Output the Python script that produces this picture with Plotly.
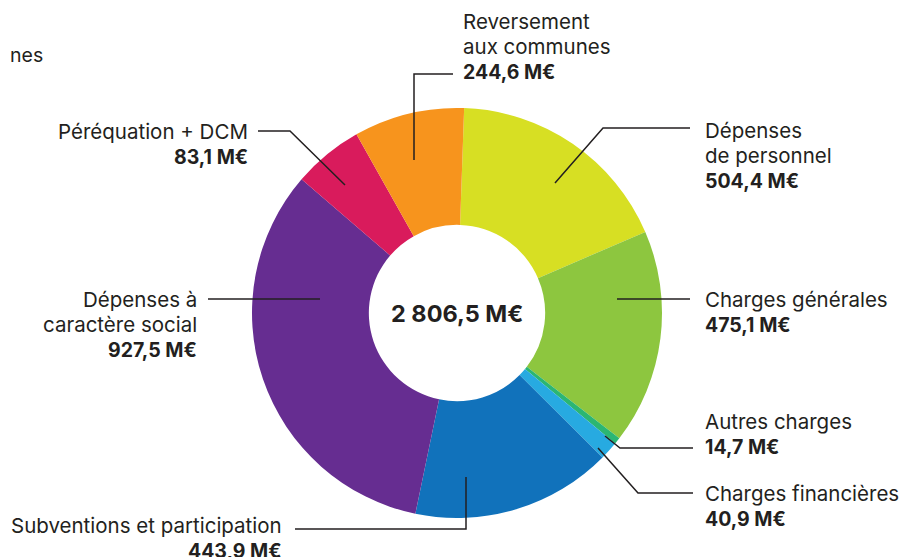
import plotly.graph_objects as go

# data
labels = ["Dépenses de personnel", "Charges générales", "Autres charges",
          "Charges financières", "Subventions et participation",
          "Dépenses à caractère social", "Péréquation + DCM",
          "Reversement aux communes"]
# slice sizes as drawn in the picture (the Péréquation slice is drawn
# wider than its label, so the ring adds up to the centre total)
slice_values = [504.4, 475.1, 14.7, 40.9, 443.9, 927.5, 155.4, 244.6]
value_text = ["504,4 M€", "475,1 M€", "14,7 M€", "40,9 M€", "443,9 M€",
              "927,5 M€", "83,1 M€", "244,6 M€"]
colors = ["#d7df23", "#8dc63f", "#2bb673", "#27aae1", "#1172bb",
          "#662d91", "#d91b5c", "#f7941d"]
total_text = "2 806,5 M€"

W, H = 911, 557
OFF = 8  # page body margin, compensated so screen pixels match
FONT = "Inter, Roboto, sans-serif"
INK = "#231f20"

# pie center / radius in screen pixels
cx, cy, r = 457, 313, 205

fig = go.Figure()
fig.add_trace(go.Pie(
    labels=labels, values=slice_values, sort=False, direction="clockwise",
    rotation=2, hole=0.43, textinfo="none", hoverinfo="label",
    marker=dict(colors=colors, line=dict(width=0)),
    domain=dict(x=[(cx - OFF - r) / W, (cx - OFF + r) / W],
                y=[(H - (cy - OFF) - r) / H, (H - (cy - OFF) + r) / H]),
    showlegend=False,
))

# label blocks: (name lines, value index, x, first line center y, anchor)
blocks = [
    (["Reversement", "aux communes"], 7, 461, 21, "left"),
    (["Dépenses", "de personnel"], 0, 703, 130, "left"),
    (["Charges générales"], 1, 703, 299, "left"),
    (["Autres charges"], 2, 703, 421, "left"),
    (["Charges financières"], 3, 703, 493, "left"),
    (["Subventions et participation"], 4, 284, 525, "right"),
    (["Dépenses à", "caractère social"], 5, 199, 299, "right"),
    (["Péréquation + DCM"], 6, 250, 131, "right"),
]
LH = 25.5
for names, i, x, y, anchor in blocks:
    lines = [(n, False) for n in names] + [(value_text[i], True)]
    for k, (t, bold) in enumerate(lines):
        fig.add_annotation(
            x=x, y=y + k * LH, xref="x", yref="y", xanchor=anchor,
            yanchor="middle", showarrow=False,
            text=f"<b>{t}</b>" if bold else t,
            font=dict(family=FONT, size=19.5 if bold else 20.5, color=INK),
        )

# leader lines
leaders = [
    "M 453 74 L 414 74 L 414 160",
    "M 690 128 L 603 128 L 555 183",
    "M 690 299 L 617 299",
    "M 693 448 L 620 448 L 605 436",
    "M 693 493 L 638 493 L 598 448",
    "M 295 529 L 466 529 L 466 477",
    "M 208 299 L 320 299",
    "M 258 131 L 290 131 L 345 185",
]
for p in leaders:
    fig.add_shape(type="path", path=p, xref="x", yref="y",
                  line=dict(color=INK, width=1.5))

# center total
fig.add_annotation(x=cx, y=cy, xref="x", yref="y", showarrow=False,
                   text=f"<b>{total_text}</b>",
                   font=dict(family=FONT, size=23.5, color=INK))

# title fragment at top left
fig.add_annotation(x=45, y=55, xref="x", yref="y", xanchor="right",
                   yanchor="middle", showarrow=False, text="nes",
                   font=dict(family=FONT, size=19.5, color=INK))

fig.update_layout(
    width=W, height=H, margin=dict(l=0, r=0, t=0, b=0),
    paper_bgcolor="white", plot_bgcolor="white",
    xaxis=dict(range=[OFF, W + OFF], visible=False, domain=[0, 1],
               fixedrange=True),
    yaxis=dict(range=[H + OFF, OFF], visible=False, domain=[0, 1],
               fixedrange=True),
)

fig.write_html("out.html")
